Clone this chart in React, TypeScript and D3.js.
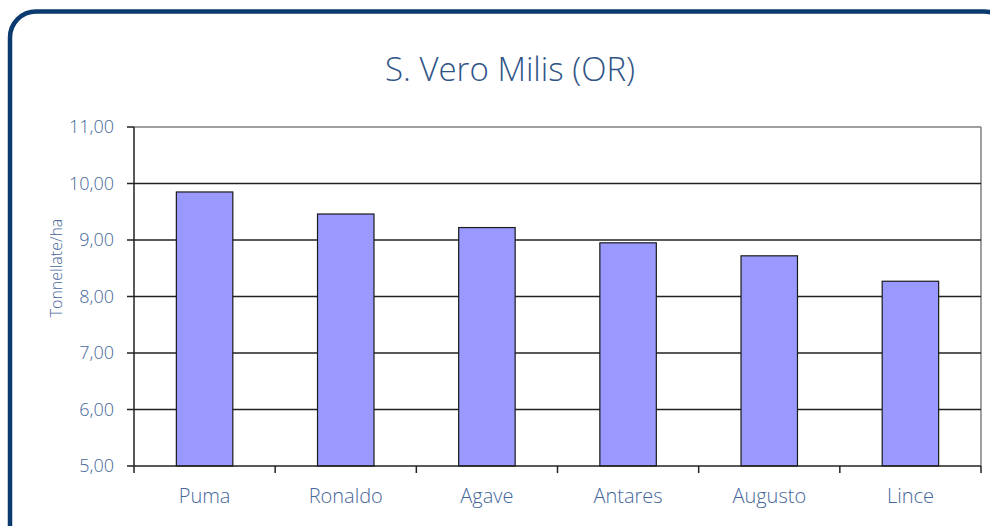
import React from 'react';
import * as d3 from 'd3';

const categories = ['Puma', 'Ronaldo', 'Agave', 'Antares', 'Augusto', 'Lince'];
const yields = [9.85, 9.46, 9.22, 8.95, 8.72, 8.27];
const yTicks = [5, 6, 7, 8, 9, 10, 11];

const W = 990;
const H = 526;
const FONT = '"Open Sans", "DejaVu Sans", sans-serif';
const TEXT = '#46679a';

const App: React.FC = () => {
  const plot = { left: 134, top: 127, right: 981, bottom: 466 };

  const x = d3
    .scaleBand<string>()
    .domain(categories)
    .range([plot.left, plot.right])
    .paddingInner(0.6)
    .paddingOuter(0.3);

  const y = d3.scaleLinear().domain([5, 11]).range([plot.bottom, plot.top]);

  const step = (plot.right - plot.left) / categories.length;
  const fmt = (v: number) => v.toFixed(2).replace('.', ',');

  return (
    <svg
      width={W}
      height={H}
      style={{ position: 'fixed', left: 0, top: 0, background: '#fff' }}
    >
      <rect x={10} y={11.5} width={1000} height={560} rx={26} ry={26} fill="#fff" stroke="#0b3a6e" strokeWidth={4.5} />

      <text x={510} y={81} textAnchor="middle" fontFamily={FONT} fontWeight={300} fontSize={33} fill="#2f5486">
        S. Vero Milis (OR)
      </text>

      {/* plot frame: grey top and right */}
      <line x1={plot.left} x2={plot.right} y1={plot.top} y2={plot.top} stroke="#808080" strokeWidth={1.5} />
      <line x1={plot.right} x2={plot.right} y1={plot.top} y2={plot.bottom} stroke="#808080" strokeWidth={1.5} />

      {yTicks.map(t => (
        <g key={t}>
          {t > 5 && t < 11 && (
            <line x1={plot.left} x2={plot.right} y1={y(t)} y2={y(t)} stroke="#222" strokeWidth={1.5} />
          )}
          <line x1={plot.left - 7} x2={plot.left} y1={y(t)} y2={y(t)} stroke="#222" strokeWidth={1.5} />
          <text
            x={114}
            y={y(t)}
            dy="0.35em"
            textAnchor="end"
            fontFamily={FONT}
            fontWeight={300}
            fontSize={18}
            fill={TEXT}
          >
            {fmt(t)}
          </text>
        </g>
      ))}

      {categories.map((c, i) => (
        <rect
          key={c}
          x={x(c)}
          y={y(yields[i])}
          width={x.bandwidth()}
          height={y(5) - y(yields[i])}
          fill="#9999ff"
          stroke="#1a1a1a"
          strokeWidth={1.2}
        />
      ))}

      {/* x axis */}
      <line x1={plot.left} x2={plot.right} y1={plot.bottom} y2={plot.bottom} stroke="#222" strokeWidth={1.5} />
      <line x1={plot.left} x2={plot.left} y1={plot.top} y2={plot.bottom + 7} stroke="#222" strokeWidth={1.5} />
      {d3.range(1, categories.length + 1).map(i => (
        <line
          key={i}
          x1={plot.left + i * step}
          x2={plot.left + i * step}
          y1={plot.bottom}
          y2={plot.bottom + 7}
          stroke="#222"
          strokeWidth={1.5}
        />
      ))}
      {categories.map(c => (
        <text
          key={c}
          x={(x(c) ?? 0) + x.bandwidth() / 2}
          y={503}
          textAnchor="middle"
          fontFamily={FONT}
          fontWeight={300}
          fontSize={20}
          fill={TEXT}
        >
          {c}
        </text>
      ))}

      <text
        transform={`translate(62,268) rotate(-90)`}
        textAnchor="middle"
        fontFamily={FONT}
        fontWeight={300}
        fontSize={16}
        fill={TEXT}
      >
        Tonnellate/ha
      </text>
    </svg>
  );
};

export default App;
